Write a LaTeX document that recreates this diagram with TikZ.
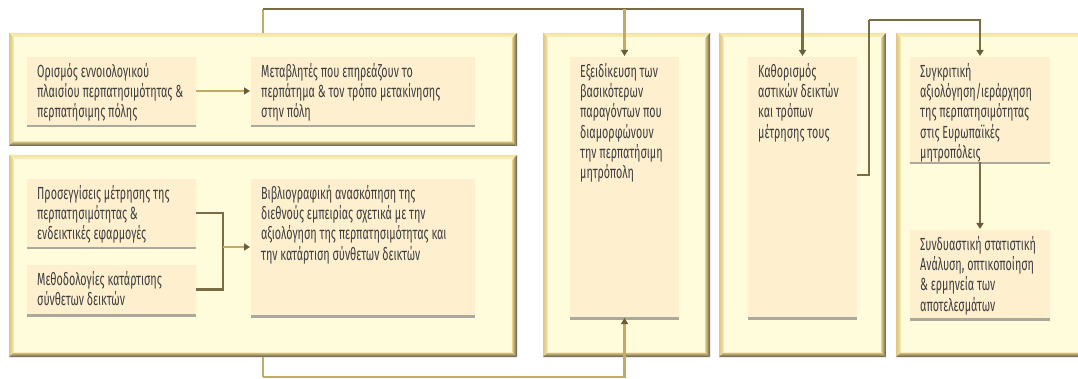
\documentclass[tikz,border=0pt]{standalone}
\usepackage{fontspec}
\setmainfont{Fira Sans}[FakeStretch=0.615]
\usetikzlibrary{arrows.meta,shadows}

\definecolor{panelfill}{HTML}{FFFCDC}
\definecolor{boxfill}{HTML}{FEEFCF}
\definecolor{goldlt}{HTML}{F1E4A2}
\definecolor{goldmd}{HTML}{DCC784}
\definecolor{golddk}{HTML}{5F5A4A}
\definecolor{linkcol}{HTML}{C2AB64}
\definecolor{linkdk}{HTML}{7A6C45}
\definecolor{tipcol}{HTML}{6A5C3A}
\definecolor{txtcol}{HTML}{3E3E3E}

\tikzset{
  panel/.style={fill=panelfill, draw=none, inner sep=0pt, outer sep=0pt, anchor=north west},
  stepbox/.style={fill=boxfill, draw=none, inner sep=0pt, outer sep=0pt, anchor=north west,
    drop shadow={shadow xshift=0pt, shadow yshift=-2.5pt, opacity=.6, fill=black!55}},
  boxtext/.style={anchor=north west, inner sep=0pt, align=left, text=txtcol,
    font=\fontsize{17.5}{20.3}\selectfont},
  link/.style={draw=linkcol, line width=2.4pt},
  darklink/.style={draw=linkdk, line width=2.4pt},
  tip/.style={-{Triangle[width=7pt,length=6pt,fill=tipcol,color=tipcol]}, shorten >=1pt}
}

% bevelled frame drawn round a panel node
\newcommand\bevelframe[1]{%
  \shade[top color=goldlt, bottom color=panelfill!60!goldlt]
    (#1.north west) -- (#1.north east) -- ([shift={(-4.5pt,-4.5pt)}]#1.north east)
    -- ([shift={(4.5pt,-4.5pt)}]#1.north west) -- cycle;
  \shade[left color=goldmd, right color=goldlt]
    (#1.north west) -- ([shift={(4.5pt,-4.5pt)}]#1.north west)
    -- ([shift={(4.5pt,4.5pt)}]#1.south west) -- (#1.south west) -- cycle;
  \shade[left color=goldmd, right color=golddk]
    (#1.north east) -- (#1.south east) -- ([shift={(-4.5pt,4.5pt)}]#1.south east)
    -- ([shift={(-4.5pt,-4.5pt)}]#1.north east) -- cycle;
  \shade[top color=goldmd, bottom color=golddk]
    (#1.south west) -- (#1.south east) -- ([shift={(-4.5pt,4.5pt)}]#1.south east)
    -- ([shift={(4.5pt,4.5pt)}]#1.south west) -- cycle;
}

\begin{document}
\begin{tikzpicture}[x=1pt,y=-1pt]
\useasboundingbox (0,0) rectangle (1078,379);
\clip (0,0) rectangle (1078,379);

% bends of the long connectors
\coordinate (topbar) at (263,9);
\coordinate (botbar) at (263,377);
\coordinate (dknee) at (869,175);
\coordinate (etop) at (869,20);

% panels
\node[panel, minimum width=508pt, minimum height=113pt] (pA) at (9,33) {};
\node[panel, minimum width=508pt, minimum height=202pt] (pB) at (9,155) {};
\node[panel, minimum width=167pt, minimum height=324pt] (pC) at (543,33) {};
\node[panel, minimum width=167pt, minimum height=324pt] (pD) at (719,33) {};
\node[panel, minimum width=190pt, minimum height=324pt] (pE) at (896,33) {};
\bevelframe{pA}\bevelframe{pB}\bevelframe{pC}\bevelframe{pD}\bevelframe{pE}

% step boxes
\node[stepbox, minimum width=169pt, minimum height=68pt] (a1) at (27,57) {};
\node[stepbox, minimum width=224pt, minimum height=68pt] (a2) at (251,57) {};
\node[stepbox, minimum width=169pt, minimum height=68pt] (b1) at (27,179) {};
\node[stepbox, minimum width=169pt, minimum height=49pt] (b2) at (27,265) {};
\node[stepbox, minimum width=224pt, minimum height=136pt] (b3) at (251,179) {};
\node[stepbox, minimum width=109pt, minimum height=260pt] (c1) at (570,57) {};
\node[stepbox, minimum width=109pt, minimum height=260pt] (d1) at (748,57) {};
\node[stepbox, minimum width=140pt, minimum height=105pt] (e1) at (910,57) {};
\node[stepbox, minimum width=140pt, minimum height=88pt] (e2) at (910,230) {};

% texts
\node[boxtext] (a1t) at ([shift={(10pt,-6pt)}]a1.north west)
  {Ορισμός εννοιολογικού\\πλαισίου περπατησιμότητας \&\\περπατήσιμης πόλης};
\node[boxtext] (a2t) at ([shift={(10pt,-6pt)}]a2.north west)
  {Μεταβλητές που επηρεάζουν το\\περπάτημα \& τον τρόπο μετακίνησης\\στην πόλη};
\node[boxtext] (b1t) at ([shift={(10pt,-6pt)}]b1.north west)
  {Προσεγγίσεις μέτρησης της\\περπατησιμότητας \&\\ενδεικτικές εφαρμογές};
\node[boxtext] (b2t) at ([shift={(10pt,-6pt)}]b2.north west)
  {Μεθοδολογίες κατάρτισης\\σύνθετων δεικτών};
\node[boxtext] (b3t) at ([shift={(10pt,-6pt)}]b3.north west)
  {Βιβλιογραφική ανασκόπηση της\\διεθνούς εμπειρίας σχετικά με την\\αξιολόγηση της περπατησιμότητας και\\την κατάρτιση σύνθετων δεικτών};
\node[boxtext] (c1t) at ([shift={(10pt,-6pt)}]c1.north west)
  {Εξειδίκευση των\\βασικότερων\\παραγόντων που\\διαμορφώνουν\\την περπατήσιμη\\μητρόπολη};
\node[boxtext] (d1t) at ([shift={(10pt,-6pt)}]d1.north west)
  {Καθορισμός\\αστικών δεικτών\\και τρόπων\\μέτρησης τους};
\node[boxtext] (e1t) at ([shift={(10pt,-6pt)}]e1.north west)
  {Συγκριτική\\αξιολόγηση/ιεράρχηση\\της περπατησιμότητας\\στις Ευρωπαϊκές\\μητροπόλεις};
\node[boxtext] (e2t) at ([shift={(10pt,-6pt)}]e2.north west)
  {Συνδυαστική στατιστική\\Ανάλυση, οπτικοποίηση\\\& ερμηνεία των\\αποτελεσμάτων};

% connectors
\draw[link, tip] (a1.east) -- (a2.west);
\coordinate (bj) at (223,247);
\draw[darklink] (b1.east) -| (bj);
\draw[darklink] (b2.east) -| (bj);
\draw[link, tip] (bj) -- (b3.west);

\draw[link] (topbar |- pA.north) -- (topbar);
\draw[darklink, tip] (topbar) -| (d1.north);
\draw[link, tip] (topbar -| c1.north) -- (c1.north);

\draw[link] (botbar |- pB.south) -- (botbar);
\draw[link, tip] (botbar) -| (c1.south);

\draw[darklink] (dknee -| d1.east) -- (dknee) -- (etop);
\draw[darklink, tip] (etop) -| (e1.north);

\draw[darklink, tip] (e1.south) -- (e2.north);
\end{tikzpicture}
\end{document}
